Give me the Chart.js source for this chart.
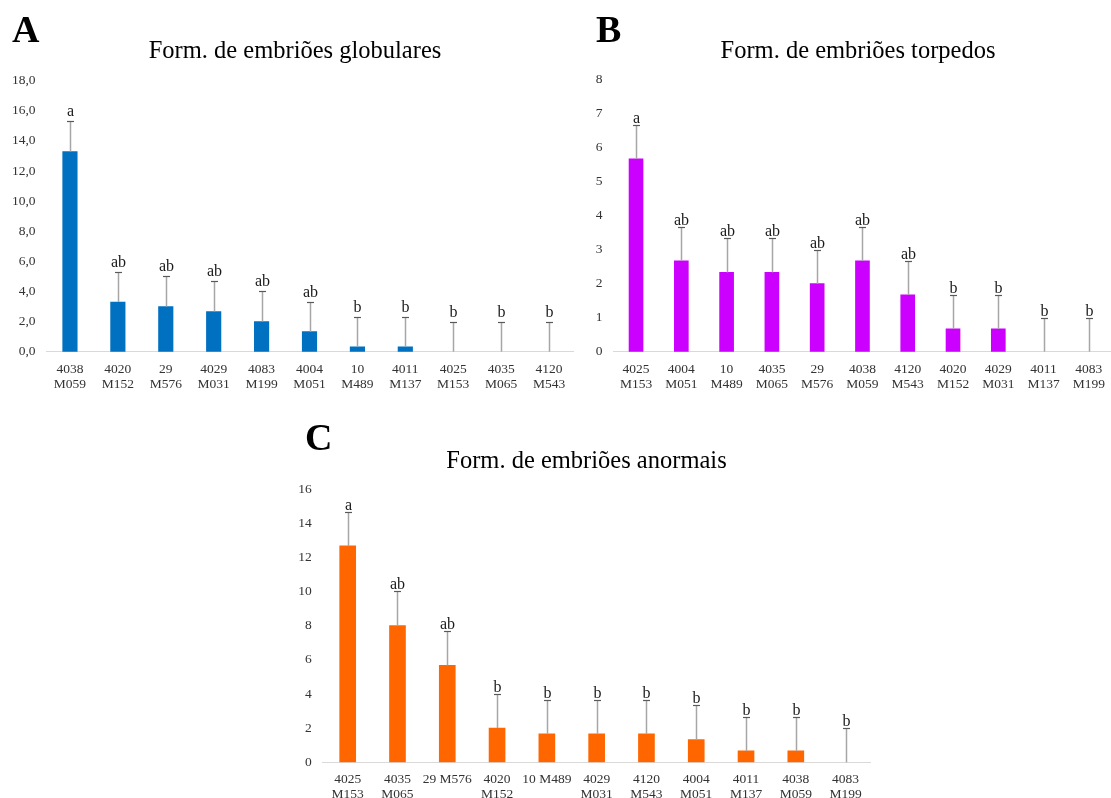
<!DOCTYPE html>
<html>
<head>
<meta charset="utf-8">
<script src="https://cdn.jsdelivr.net/npm/chart.js@4.4.1/dist/chart.umd.min.js"></script>
<style>
  html, body { margin: 0; padding: 0; background: #fff; overflow: hidden; width: 1111px; height: 798px; }
  canvas { position: absolute; }
  .panel { position: absolute; font-family: 'Liberation Serif', 'Times New Roman', serif; font-weight: bold; font-size: 38px; line-height: 38px; color: #000; }
</style>
</head>
<body>
<canvas id="chartA" width="590" height="400" style="left:0px;top:0px"></canvas>
<canvas id="chartB" width="540" height="400" style="left:575px;top:0px"></canvas>
<canvas id="chartC" width="600" height="398" style="left:280px;top:400px"></canvas>
<div class="panel" style="left:12px;top:10px">A</div>
<div class="panel" style="left:596px;top:10px">B</div>
<div class="panel" style="left:305px;top:418px">C</div>
<script>
// Panel A - globulares
var labelsA = [["4038", "M059"], ["4020", "M152"], ["29", "M576"], ["4029", "M031"], ["4083", "M199"], ["4004", "M051"], ["10", "M489"], ["4011", "M137"], ["4025", "M153"], ["4035", "M065"], ["4120", "M543"]];
var valuesA = [13.3, 3.3, 3.0, 2.67, 2.0, 1.33, 0.33, 0.33, 0, 0, 0];
var errorsA = [2.0, 2.0, 2.0, 2.0, 2.0, 2.0, 2.0, 2.0, 2.0, 2.0, 2.0];
var lettersA = ["a", "ab", "ab", "ab", "ab", "ab", "b", "b", "b", "b", "b"];

// Panel B - torpedos
var labelsB = [["4025", "M153"], ["4004", "M051"], ["10", "M489"], ["4035", "M065"], ["29", "M576"], ["4038", "M059"], ["4120", "M543"], ["4020", "M152"], ["4029", "M031"], ["4011", "M137"], ["4083", "M199"]];
var valuesB = [5.67, 2.67, 2.33, 2.33, 2.0, 2.67, 1.67, 0.67, 0.67, 0, 0];
var errorsB = [1.0, 1.0, 1.0, 1.0, 1.0, 1.0, 1.0, 1.0, 1.0, 1.0, 1.0];
var lettersB = ["a", "ab", "ab", "ab", "ab", "ab", "ab", "b", "b", "b", "b"];

// Panel C - anormais
var labelsC = [["4025", "M153"], ["4035", "M065"], "29 M576", ["4020", "M152"], "10 M489", ["4029", "M031"], ["4120", "M543"], ["4004", "M051"], ["4011", "M137"], ["4038", "M059"], ["4083", "M199"]];
var valuesC = [12.67, 8.0, 5.67, 2.0, 1.67, 1.67, 1.67, 1.33, 0.67, 0.67, 0];
var errorsC = [2.0, 2.0, 2.0, 2.0, 2.0, 2.0, 2.0, 2.0, 2.0, 2.0, 2.0];
var lettersC = ["a", "ab", "ab", "b", "b", "b", "b", "b", "b", "b", "b"];

var SERIF = "'Liberation Serif', 'Times New Roman', serif";
Chart.defaults.font.family = SERIF;
Chart.defaults.color = '#333';
Chart.defaults.animation = false;

// error bars (upper only) with the letters on top, plus the title
var errorBars = {
  id: 'errorBars',
  afterDatasetsDraw: function(chart) {
    var ctx = chart.ctx;
    var ds = chart.data.datasets[0];
    var meta = chart.getDatasetMeta(0);
    var y = chart.scales.y;
    ctx.save();
    meta.data.forEach(function(bar, i) {
      var x = Math.round(bar.x) + 0.5;
      var yBase = y.getPixelForValue(ds.data[i]);
      var yTop = Math.round(y.getPixelForValue(ds.data[i] + ds.errors[i])) + 0.5;
      ctx.strokeStyle = '#a6a6a6';
      ctx.lineWidth = 1.5;
      ctx.beginPath();
      ctx.moveTo(x, yBase);
      ctx.lineTo(x, yTop);
      ctx.stroke();
      ctx.strokeStyle = '#595959';
      ctx.lineWidth = 1.2;
      ctx.beginPath();
      ctx.moveTo(x - 3.5, yTop);
      ctx.lineTo(x + 3.5, yTop);
      ctx.stroke();
      ctx.fillStyle = '#1a1a1a';
      ctx.font = '16px ' + SERIF;
      ctx.textAlign = 'center';
      ctx.textBaseline = 'alphabetic';
      ctx.fillText(ds.letters[i], x, yTop - ds.letterGap);
    });
    // title
    ctx.fillStyle = '#000';
    ctx.font = '24.5px ' + SERIF;
    ctx.textAlign = 'center';
    ctx.textBaseline = 'middle';
    ctx.fillText(ds.title, ds.titleX, ds.titleY);
    ctx.restore();
  }
};

function makeChart(id, cfg) {
  return new Chart(document.getElementById(id), {
    type: 'bar',
    data: {
      labels: cfg.labels,
      datasets: [{
        data: cfg.values,
        errors: cfg.errors,
        letters: cfg.letters,
        letterGap: cfg.letterGap,
        title: cfg.title,
        titleX: cfg.titleX,
        titleY: cfg.titleY,
        // zero bars stay invisible, like the original
        backgroundColor: function(c) { return c.raw > 0 ? cfg.color : 'rgba(0,0,0,0)'; },
        borderWidth: 0,
        barThickness: cfg.barWidth
      }]
    },
    options: {
      responsive: false,
      layout: { padding: cfg.padding },
      plugins: {
        legend: { display: false },
        tooltip: { enabled: false },
        title: { display: false }
      },
      scales: {
        x: {
          grid: { display: false, drawTicks: false },
          border: { display: true, color: '#d9d9d9', width: 1 },
          ticks: { font: { size: 13.5, lineHeight: 1.1 }, padding: 10, maxRotation: 0, autoSkip: false },
          afterFit: function(s) { s.height = cfg.xHeight; }
        },
        y: {
          min: 0,
          max: cfg.max,
          grid: { display: false, drawTicks: false },
          border: { display: false },
          ticks: {
            stepSize: cfg.step,
            padding: cfg.tickPad,
            font: { size: 13.5 },
            callback: cfg.fmt
          },
          afterFit: function(s) { s.width = cfg.yWidth; }
        }
      }
    },
    plugins: [errorBars]
  });
}

makeChart('chartA', {
  labels: labelsA, values: valuesA, errors: errorsA, letters: lettersA, letterGap: 6,
  color: '#0070C0', barWidth: 14.5,
  title: 'Form. de embriões globulares', titleX: 295, titleY: 51.7,
  padding: { left: 0, right: 17, top: 80.7, bottom: 0 },
  yWidth: 46, xHeight: 48.3, tickPad: 10.5,
  max: 18, step: 2,
  fmt: function(v) { return v.toFixed(1).replace('.', ','); }
});

makeChart('chartB', {
  labels: labelsB, values: valuesB, errors: errorsB, letters: lettersB, letterGap: 2.5,
  color: '#CC00FF', barWidth: 14,
  title: 'Form. de embriões torpedos', titleX: 283, titleY: 51.7,
  padding: { left: 0, right: 0, top: 79.5, bottom: 0 },
  yWidth: 38.4, xHeight: 48.3, tickPad: 11,
  max: 8, step: 1,
  fmt: function(v) { return v; }
});

makeChart('chartC', {
  labels: labelsC, values: valuesC, errors: errorsC, letters: lettersC, letterGap: 3,
  color: '#FF6600', barWidth: 16,
  title: 'Form. de embriões anormais', titleX: 306.5, titleY: 61.7,
  padding: { left: 0, right: 9.5, top: 89, bottom: 0 },
  yWidth: 42.8, xHeight: 35.7, tickPad: 11,
  max: 16, step: 2,
  fmt: function(v) { return v; }
});
</script>
</body>
</html>
